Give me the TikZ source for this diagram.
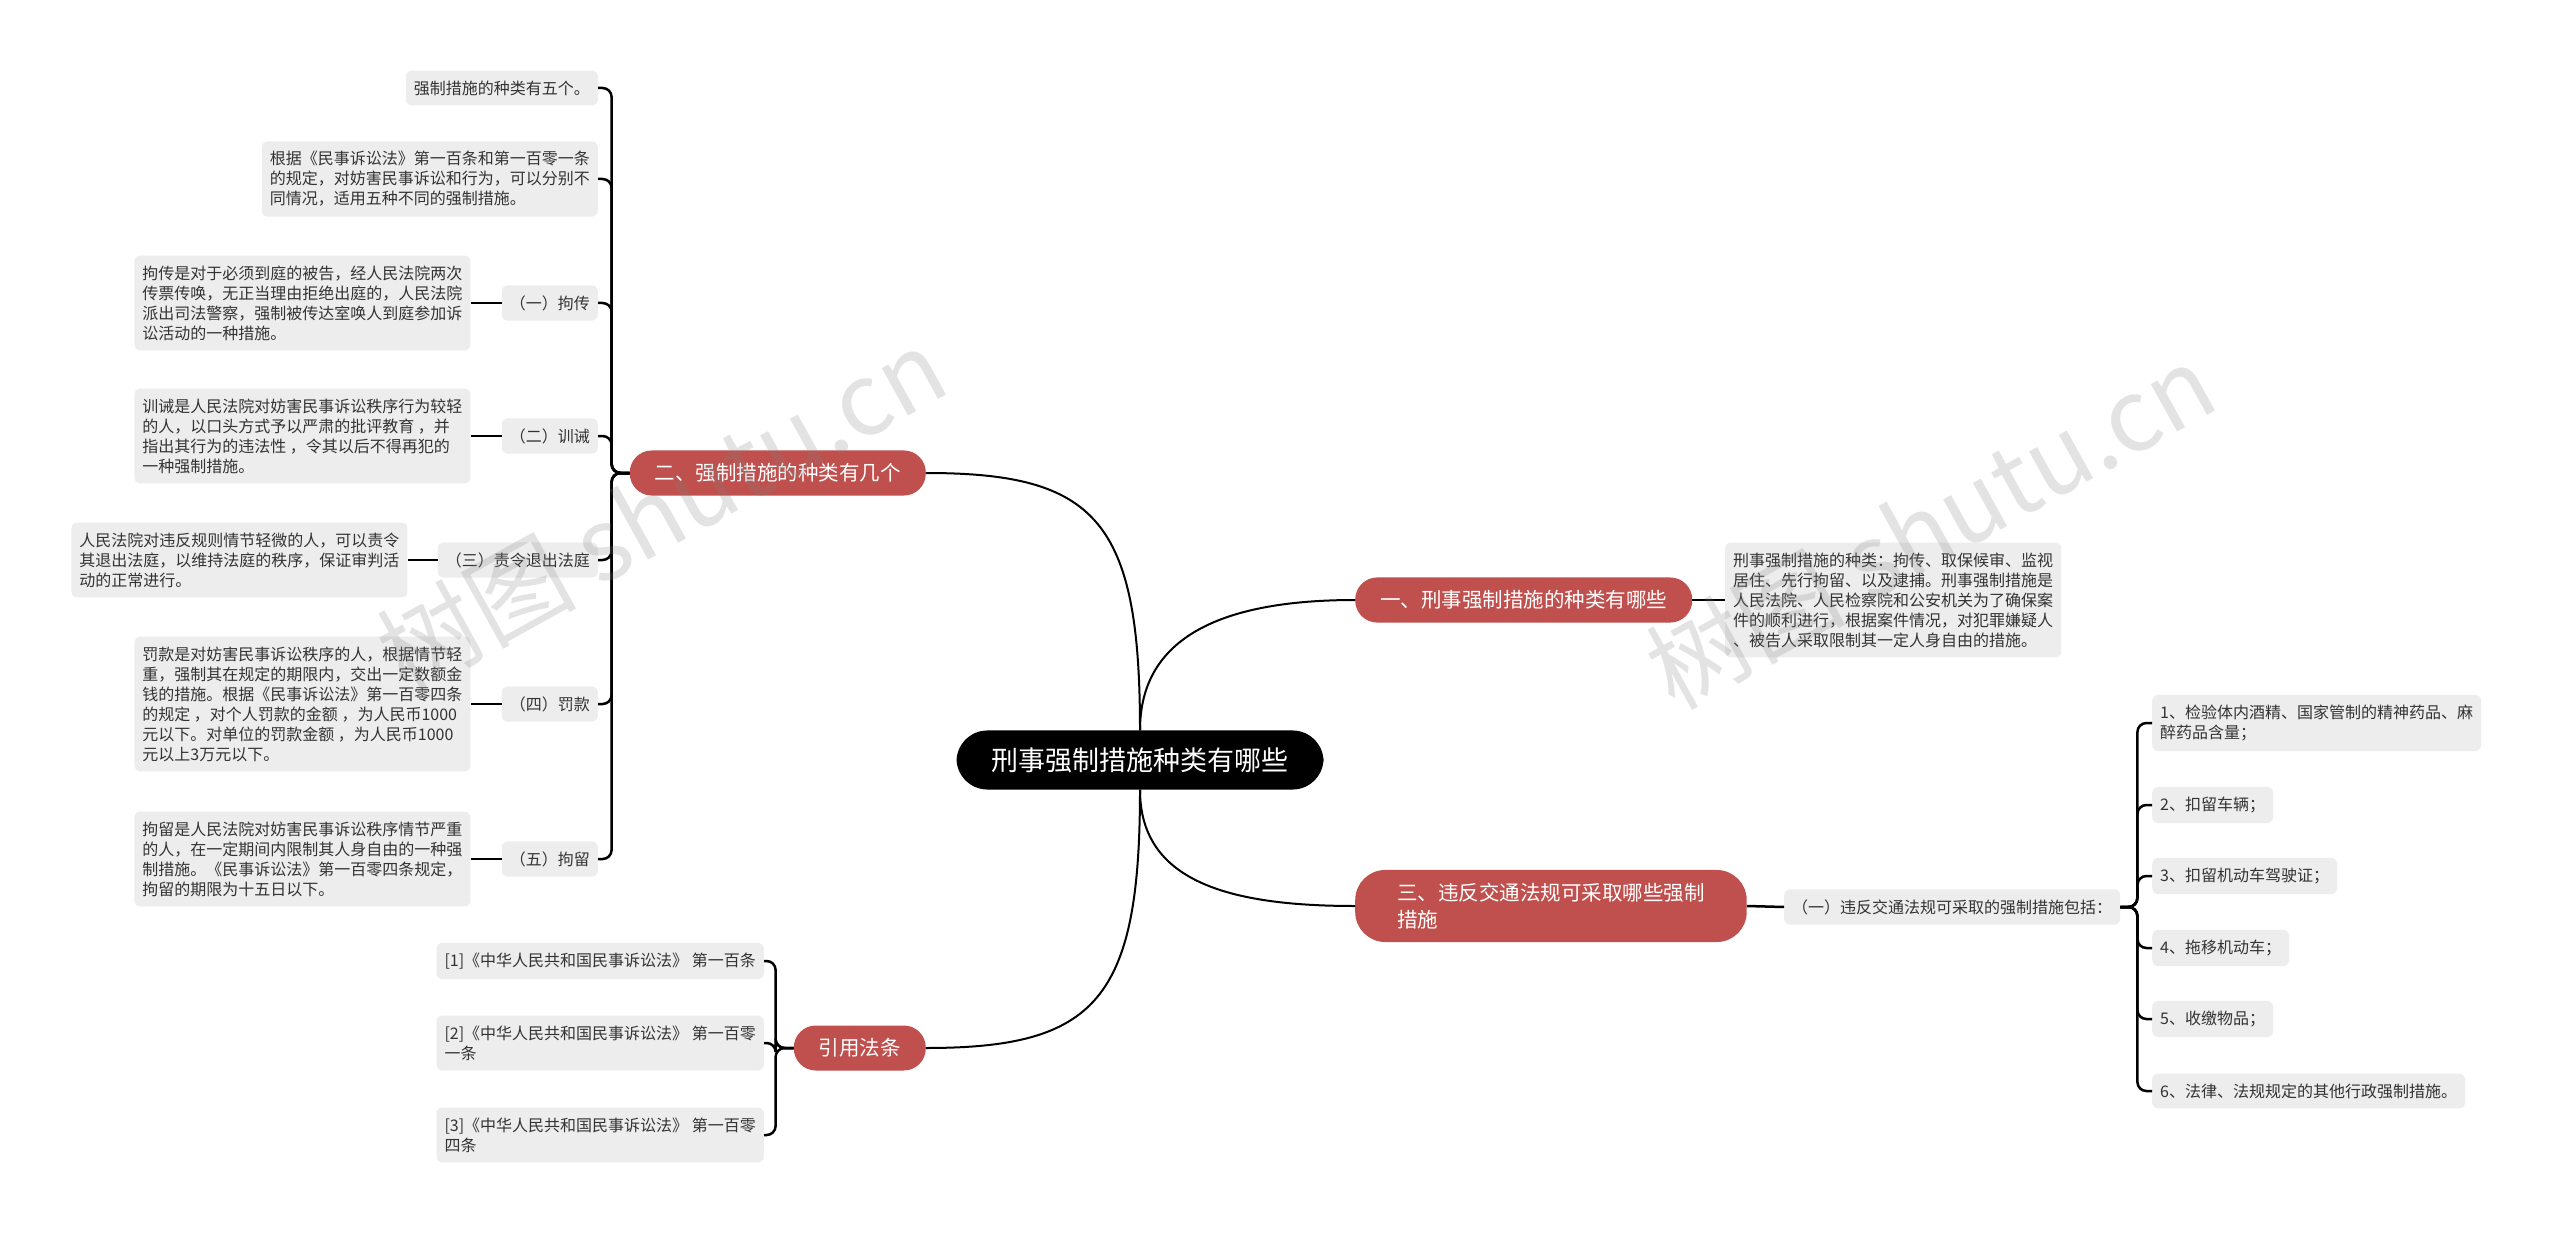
\documentclass[tikz,border=0pt]{standalone}
\usepackage{fontspec}
\setmainfont{Noto Sans CJK SC}
\usetikzlibrary{positioning,calc}
\definecolor{MR}{HTML}{C0504D}
\definecolor{LG}{HTML}{EDEDED}
\definecolor{TX}{HTML}{333333}

\begin{document}
\begin{tikzpicture}[x=1pt, y=-1pt,
    root/.style={fill=black, text=white, rounded corners=31pt,
      inner xsep=35pt, inner ysep=17pt,
      font=\fontsize{27}{32}\selectfont},
    branch/.style={fill=MR, text=white, rounded corners=22pt,
      inner xsep=25pt, inner ysep=13pt,
      font=\fontsize{20.5}{27}\selectfont},
    leaf/.style={fill=LG, text=TX, rounded corners=6pt,
      inner xsep=8pt, inner ysep=10pt, align=left,
      font=\fontsize{16}{20}\selectfont},
    link/.style={draw=black, line width=2.5pt, rounded corners=9pt},
    curve/.style={draw=black, line width=2pt},
    wmark/.style={text=gray, opacity=0.22, rotate=29,
      font=\fontsize{100}{100}\selectfont}]

    \fill[white] (0,0) rectangle (2560,1233);
    \useasboundingbox (0,0) rectangle (2560,1233);

    %% ── root ─────────────────────────────────────────
    \node[root] (root) at (1140,760) {刑事强制措施种类有哪些};

    %% ── main branches ────────────────────────────────
    \node[branch, anchor=west] (b1) at (1355,600)
      {一、刑事强制措施的种类有哪些};
    \node[branch, anchor=east] (b2) at (926,473)
      {二、强制措施的种类有几个};
    \node[branch, anchor=west, align=left, rounded corners=30pt,
          inner xsep=42pt] (b3) at (1355,906)
      {三、违反交通法规可采取哪些强制\\措施};
    \node[branch, anchor=east] (b4) at (926,1048) {引用法条};

    \draw[curve] (root.north) .. controls ($(root.north)+(0,-95)$)
      and ($(b1.west)+(-130,0)$) .. (b1.west);
    \draw[curve] (root.north) .. controls ($(root.north)+(0,-210)$)
      and ($(b2.east)+(170,0)$) .. (b2.east);
    \draw[curve] (root.south) .. controls ($(root.south)+(0,90)$)
      and ($(b3.west)+(-130,0)$) .. (b3.west);
    \draw[curve] (root.south) .. controls ($(root.south)+(0,210)$)
      and ($(b4.east)+(170,0)$) .. (b4.east);

    %% ── branch one ───────────────────────────────────
    \node[leaf, anchor=west] (r0) at (1725,600)
      {刑事强制措施的种类：拘传、取保候审、监视\\
       居住、先行拘留、以及逮捕。刑事强制措施是\\
       人民法院、人民检察院和公安机关为了确保案\\
       件的顺利进行，根据案件情况，对犯罪嫌疑人\\
       、被告人采取限制其一定人身自由的措施。};
    \draw[link] (b1.east) -- (r0.west);

    %% ── branch two: five kinds ───────────────────────
    \node[leaf, anchor=east] (k0) at (598,88) {强制措施的种类有五个。};
    \node[leaf, anchor=east] (k1) at (598,179)
      {根据《民事诉讼法》第一百条和第一百零一条\\
       的规定，对妨害民事诉讼和行为，可以分别不\\
       同情况，适用五种不同的强制措施。};
    \node[leaf, anchor=east] (k2) at (598,303) {（一）拘传};
    \node[leaf, anchor=east] (k3) at (598,436) {（二）训诫};
    \node[leaf, anchor=east] (k4) at (598,560) {（三）责令退出法庭};
    \node[leaf, anchor=east] (k5) at (598,704) {（四）罚款};
    \node[leaf, anchor=east] (k6) at (598,859) {（五）拘留};

    \node[leaf, left=31pt of k2] (d2)
      {拘传是对于必须到庭的被告，经人民法院两次\\
       传票传唤，无正当理由拒绝出庭的，人民法院\\
       派出司法警察，强制被传达室唤人到庭参加诉\\
       讼活动的一种措施。};
    \node[leaf, left=31pt of k3] (d3)
      {训诫是人民法院对妨害民事诉讼秩序行为较轻\\
       的人，以口头方式予以严肃的批评教育 ，并\\
       指出其行为的违法性 ，令其以后不得再犯的\\
       一种强制措施。};
    \node[leaf, left=30pt of k4] (d4)
      {人民法院对违反规则情节轻微的人，可以责令\\
       其退出法庭，以维持法庭的秩序，保证审判活\\
       动的正常进行。};
    \node[leaf, left=31pt of k5] (d5)
      {罚款是对妨害民事诉讼秩序的人，根据情节轻\\
       重，强制其在规定的期限内，交出一定数额金\\
       钱的措施。根据《民事诉讼法》第一百零四条\\
       的规定 ，对个人罚款的金额 ，为人民币1000\\
       元以下。对单位的罚款金额 ，为人民币1000\\
       元以上3万元以下。};
    \node[leaf, left=31pt of k6] (d6)
      {拘留是人民法院对妨害民事诉讼秩序情节严重\\
       的人，在一定期间内限制其人身自由的一种强\\
       制措施。《民事诉讼法》第一百零四条规定，\\
       拘留的期限为十五日以下。};

    \foreach \kk in {0,...,6}{
      \draw[link] (b2.west) -- ++(-18,0) |- (k\kk.east);
    }
    \foreach \kk in {2,...,6}{
      \draw[link] (k\kk.west) -- (d\kk.east);
    }

    %% ── branch three: traffic measures ───────────────
    \node[leaf, anchor=west] (q1) at (1784,907)
      {（一）违反交通法规可采取的强制措施包括：};
    \draw[link] (b3.east) -- (q1.west);

    \foreach \ii/\yy/\txt in {
        1/723/{1、检验体内酒精、国家管制的精神药品、麻\\醉药品含量；},
        2/805/{2、扣留车辆；},
        3/876/{3、扣留机动车驾驶证；},
        4/948/{4、拖移机动车；},
        5/1019/{5、收缴物品；},
        6/1091/{6、法律、法规规定的其他行政强制措施。}}{
      \node[leaf, anchor=west] (it\ii) at (2152,\yy) {\txt};
      \draw[link] (q1.east) -- ++(17,0) |- (it\ii.west);
    }

    %% ── citations ────────────────────────────────────
    \node[leaf, anchor=east] (ct1) at (764,961)
      {[1]《中华人民共和国民事诉讼法》 第一百条};
    \node[leaf, anchor=east] (ct2) at (764,1043)
      {[2]《中华人民共和国民事诉讼法》 第一百零\\一条};
    \node[leaf, anchor=east] (ct3) at (764,1135)
      {[3]《中华人民共和国民事诉讼法》 第一百零\\四条};
    \foreach \cc in {1,2,3}{
      \draw[link] (b4.west) -- ++(-18,0) |- (ct\cc.east);
    }

    %% ── watermark ────────────────────────────────────
    \node[wmark] (wm1) at (661,510) {树图 shutu.cn};
    \node[wmark] (wm2) at (1930,526) {树图 shutu.cn};

\end{tikzpicture}
\end{document}
